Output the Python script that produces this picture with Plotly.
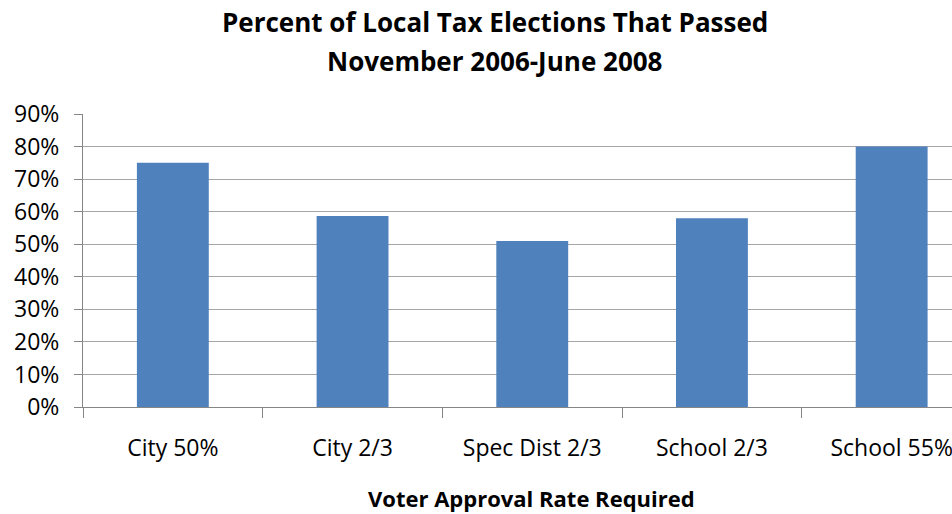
import plotly.graph_objects as go

categories = ["City 50%", "City 2/3", "Spec Dist 2/3", "School 2/3", "School 55%"]
passed_pct = [0.75, 0.587, 0.51, 0.58, 0.80]
y_ticks = [0, 0.1, 0.2, 0.3, 0.4, 0.5, 0.6, 0.7, 0.8, 0.9]
y_tick_labels = ["0%", "10%", "20%", "30%", "40%", "50%", "60%", "70%", "80%", "90%"]

FONT = "Open Sans"
W, H = 952, 514
L, R, T, B = 83, 0, 114, 107
pw = W - L - R
ph = H - T - B

fig = go.Figure(go.Bar(
    x=categories, y=passed_pct,
    marker=dict(color="#4F81BD", line=dict(width=0)),
    width=0.4,
))

fig.update_layout(
    width=W, height=H,
    margin=dict(l=L, r=R, t=T, b=B, pad=0),
    paper_bgcolor="white", plot_bgcolor="white",
    showlegend=False,
    font=dict(family=FONT, color="#000000"),
    annotations=[
        dict(text="<b>Percent of Local Tax Elections That Passed</b>",
             xref="paper", yref="paper", x=(495 - L) / pw, y=1 + (407 - 22 - ph) / ph,
             xanchor="center", yanchor="middle", showarrow=False,
             font=dict(family=FONT, size=26, color="#000000")),
        dict(text="<b>November 2006-June 2008</b>",
             xref="paper", yref="paper", x=(495 - L) / pw, y=1 + (407 - 61 - ph) / ph,
             xanchor="center", yanchor="middle", showarrow=False,
             font=dict(family=FONT, size=26, color="#000000")),
        dict(text="<b>Voter Approval Rate Required</b>",
             xref="paper", yref="paper", x=(531 - L) / pw, y=-(498 - 407) / ph,
             xanchor="center", yanchor="middle", showarrow=False,
             font=dict(family=FONT, size=22, color="#000000")),
    ],
)

fig.update_xaxes(
    type="category",
    range=[-0.5, -0.5 + pw / 179.7],
    showline=True, linecolor="#868686", linewidth=1,
    ticks="outside", tickson="boundaries", ticklen=10, tickcolor="#868686",
    tickfont=dict(family=FONT, size=23, color="#000000"),
    ticklabelstandoff=20,
    showgrid=False, zeroline=False,
)

fig.update_yaxes(
    range=[0, 0.9],
    tickvals=y_ticks, ticktext=y_tick_labels,
    showline=True, linecolor="#868686", linewidth=1,
    ticks="outside", ticklen=8, tickcolor="#868686",
    tickfont=dict(family=FONT, size=23, color="#000000"),
    ticklabelstandoff=10,
    showgrid=True, gridcolor="#A6A6A6", gridwidth=1,
    zeroline=False,
)

fig.write_html("out.html")
